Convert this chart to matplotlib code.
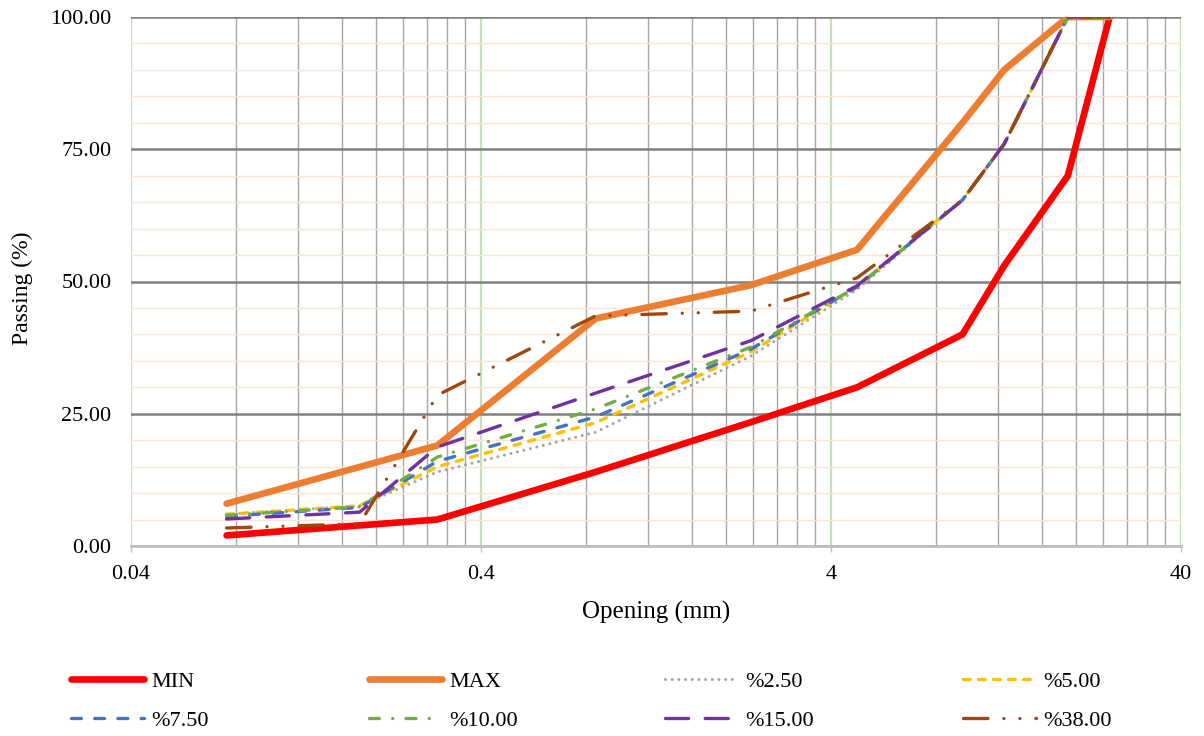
import matplotlib
matplotlib.use("Agg")
import matplotlib.pyplot as plt
from matplotlib.ticker import FixedLocator, MultipleLocator, FormatStrFormatter, FuncFormatter, NullFormatter

plt.rcParams["font.family"] = ["Liberation Serif", "DejaVu Serif"]
plt.rcParams["lines.scale_dashes"] = False

## data
# spec band (MIN / MAX)
spec_sieves = [0.075, 0.3, 0.85, 2.36, 4.75, 9.5, 12.5, 19, 25]
min_pass = [2.0, 5.0, 14.0, 23.4, 30.0, 40.0, 53.0, 70.0, 100.0]
max_pass = [8.0, 19.0, 43.0, 49.3, 56.0, 80.0, 90.0, 100.0, 100.0]

# blends
mix_sieves = [0.075, 0.18, 0.3, 0.85, 2.36, 4.75, 9.5, 12.5, 19, 25]
p_2_50 = [6.0, 7.6, 14.0, 21.5, 35.9, 48.5, 65.4, 76.0, 100.0, 100.0]
p_5_00 = [6.0, 7.6, 15.0, 23.3, 36.7, 49.0, 65.4, 76.0, 100.0, 100.0]
p_7_50 = [5.6, 7.3, 16.0, 24.4, 37.2, 49.0, 65.4, 76.0, 100.0, 100.0]
p_10_00 = [5.8, 7.4, 16.8, 25.9, 37.6, 49.0, 65.4, 76.0, 100.0, 100.0]
p_15_00 = [5.1, 6.4, 18.7, 28.9, 38.8, 49.2, 65.4, 76.0, 100.0, 100.0]
p_38_00 = [3.4, 4.2, 28.5, 43.5, 44.4, 50.7, 65.4, 76.0, 100.0, 100.0]

x_ticks = [0.04, 0.4, 4, 40]

## figure
fig = plt.figure(figsize=(12.04, 7.36), dpi=100)
ax = fig.add_axes([131 / 1204, 190 / 736, 1050 / 1204, 529 / 736])

# spec lines
ax.plot(spec_sieves, min_pass, color="#FF0000", lw=4.8, solid_capstyle="round", label="MIN")
ax.plot(spec_sieves, max_pass, color="#ED7D31", lw=4.8, solid_capstyle="round", label="MAX")

# blend lines, excel-ish dash styles (points, round caps)
styles = [
    (p_2_50, "%2.50", "#A5A5A5", 2.2, (0, (0.01, 4.8))),
    (p_5_00, "%5.00", "#FFC000", 2.4, (0, (4.8, 6.0))),
    (p_7_50, "%7.50", "#4472C4", 2.4, (0, (7.1, 9.6))),
    (p_10_00, "%10.00", "#70AD47", 2.4, (0, (7.1, 9.6, 0.01, 9.6))),
    (p_15_00, "%15.00", "#7030A0", 2.4, (0, (16.6, 12.0))),
    (p_38_00, "%38.00", "#9E480E", 2.4, (0, (17.6, 11.5, 0.01, 11.5, 0.01, 11.5))),
]
for vals, lab, col, lw, ls in styles:
    ax.plot(mix_sieves, vals, color=col, lw=lw, linestyle=ls,
            dash_capstyle="round", label=lab)

## axes
ax.set_xscale("log")
ax.set_xlim(0.04, 40)
ax.set_ylim(0, 100)

ax.xaxis.set_major_locator(FixedLocator(x_ticks))
ax.xaxis.set_minor_locator(FixedLocator([0.04 * 10 ** d * k for d in range(3) for k in range(2, 10)]))
ax.xaxis.set_major_formatter(FuncFormatter(lambda v, p: f"{v:g}"))
ax.xaxis.set_minor_formatter(NullFormatter())
ax.yaxis.set_major_locator(MultipleLocator(25))
ax.yaxis.set_minor_locator(MultipleLocator(5))
ax.yaxis.set_major_formatter(FormatStrFormatter("%.2f"))

ax.set_axisbelow(True)
ax.grid(which="minor", axis="y", color="#FBE5D6", lw=1.0)
ax.grid(which="minor", axis="x", color="#A6A6A6", lw=1.0)
ax.grid(which="major", axis="x", color="#C5E0B4", lw=1.6)
ax.grid(which="major", axis="y", color="#808080", lw=1.8)

for s in ["top", "right", "left"]:
    ax.spines[s].set_visible(False)
ax.spines["bottom"].set_color("#BFBFBF")
ax.spines["bottom"].set_linewidth(2.0)

ax.tick_params(axis="x", which="major", length=4, width=1, color="#BFBFBF", pad=10, labelsize=16)
ax.tick_params(axis="x", which="minor", length=0)
ax.tick_params(axis="y", which="both", length=0, pad=14, labelsize=16)

fig.text(656 / 1204, 1 - 612 / 736, "Opening (mm)", ha="center", va="center", fontsize=18)
fig.text(22 / 1204, 1 - 288 / 736, "Passing (%)", ha="center", va="center", rotation=90, fontsize=17)

# legend: 4 evenly spaced columns, excel fills rows
h, l = ax.get_legend_handles_labels()
col_x = [71, 369, 665, 963]
for c, x0 in enumerate(col_x):
    idx = [c, c + 4]
    fig.legend([h[i] for i in idx], [l[i] for i in idx], loc="upper left",
               bbox_to_anchor=(x0 / 1204, 1 - 671 / 736), frameon=False,
               fontsize=16, handlelength=3.3, handletextpad=0.3,
               labelspacing=0.85, borderpad=0, borderaxespad=0)

fig.savefig("out.png", dpi=100)
